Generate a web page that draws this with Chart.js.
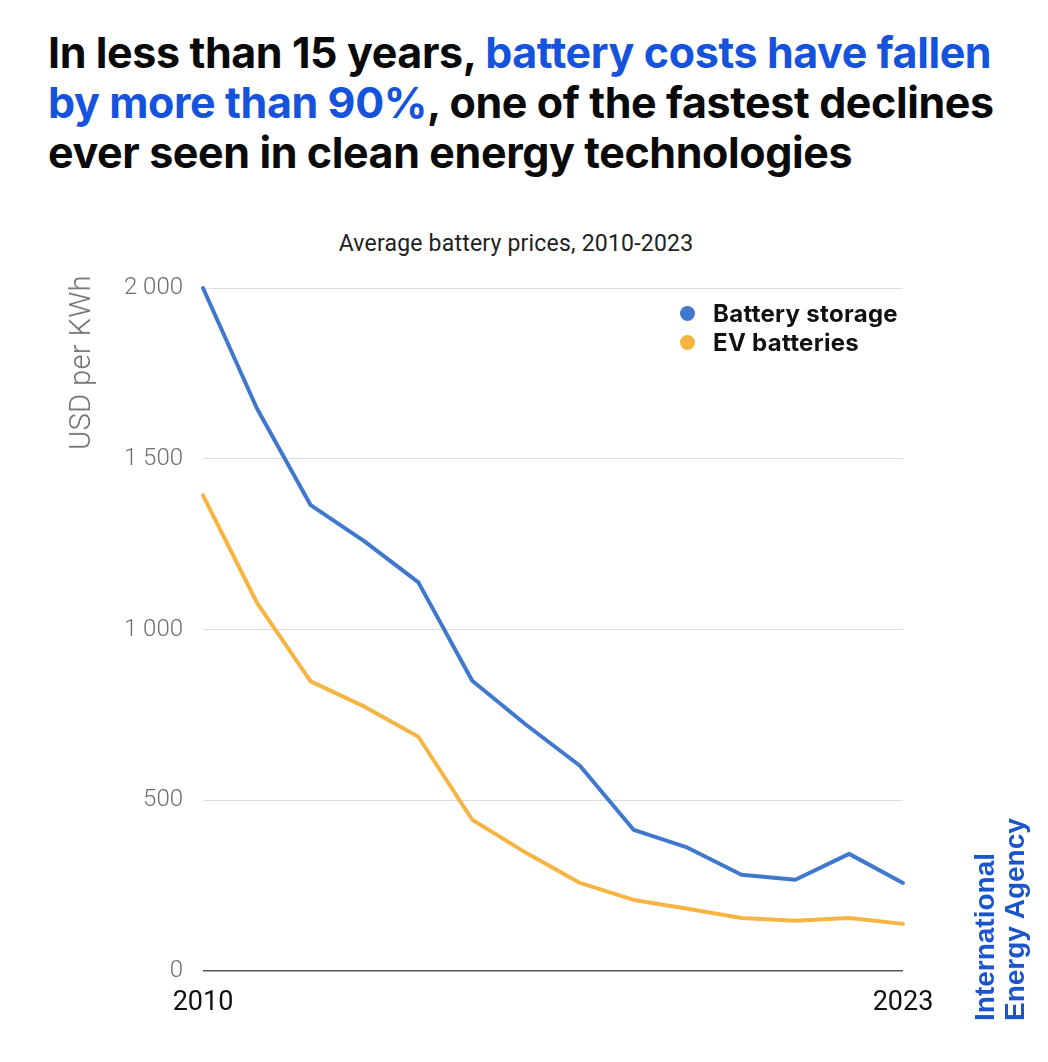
<!DOCTYPE html>
<html>
<head>
<meta charset="utf-8">
<script src="https://cdn.jsdelivr.net/npm/chart.js@4.4.1/dist/chart.umd.min.js"></script>
<style>
  html, body { margin: 0; padding: 0; background: #fff; }
  #page { position: relative; width: 1048px; height: 1062px; overflow: hidden; background: #fff; }
  #headline { position: absolute; left: 48px; top: 27px; font-family: Inter, "Open Sans", sans-serif; font-weight: 700; font-size: 43px; line-height: 50px; color: #0a0a0a; letter-spacing: -0.4px; white-space: nowrap; }
  #headline .hl { color: #1653dc; }
  #subtitle { position: absolute; left: 0; width: 1032px; top: 230px; text-align: center; font-family: Roboto, sans-serif; font-size: 23px; letter-spacing: 0.2px; color: #222; }
  #ytitle { position: absolute; left: 80px; top: 275px; transform-origin: 0 0; transform: translate(-17px, 0) rotate(-90deg) translate(-100%, 0); font-family: Roboto, sans-serif; font-weight: 300; font-size: 29px; line-height: 34px; letter-spacing: 0.4px; color: #6e6e6e; white-space: nowrap; }
  #legend { position: absolute; left: 680px; top: 299px; font-family: Inter, sans-serif; font-weight: 700; font-size: 24px; letter-spacing: 0.3px; color: #111; }
  #legend .item { height: 29px; line-height: 29px; display: flex; align-items: center; }
  #legend .dot { width: 15px; height: 15px; border-radius: 50%; margin-right: 18px; }
  #iea { position: absolute; left: 970px; top: 1021px; transform-origin: 0 0; transform: rotate(-90deg); font-family: "Liberation Sans", Arial, sans-serif; font-weight: 700; font-size: 28px; line-height: 30px; color: #1a55cc; white-space: nowrap; }
  canvas { position: absolute; left: 0; top: 0; }
</style>
</head>
<body>
<div id="page">
  <div id="headline">In less than 15 years, <span class="hl">battery costs have fallen</span><br><span class="hl">by more than 90%</span>, one of the fastest declines<br>ever seen in clean energy technologies</div>
  <div id="subtitle">Average battery prices, 2010-2023</div>
  <canvas id="chart" width="1048" height="1062"></canvas>
  <div id="ytitle">USD per KWh</div>
  <div id="legend">
    <div class="item"><span class="dot" style="background:#3f78cc"></span>Battery storage</div>
    <div class="item"><span class="dot" style="background:#f6b443"></span>EV batteries</div>
  </div>
  <div id="iea">International<br>Energy Agency</div>
</div>
<script>
const years = ["2010","2011","2012","2013","2014","2015","2016","2017","2018","2019","2020","2021","2022","2023"];
const batteryStorage = [2000, 1648, 1364, 1258, 1138, 850, 721, 601, 413, 361, 282, 267, 343, 258];
const evBatteries = [1393, 1079, 848, 774, 686, 443, 346, 258, 208, 182, 155, 147, 155, 138];
const yTicks = [0, 500, 1000, 1500, 2000];
const seriesNames = ["Battery storage", "EV batteries"];

function fmt(v) {
  return String(v).replace(/\B(?=(\d{3})+(?!\d))/g, " ");
}

new Chart(document.getElementById("chart"), {
  type: "line",
  data: {
    labels: years,
    datasets: [
      { label: seriesNames[0], data: batteryStorage, borderColor: "#3f78cc", backgroundColor: "#3f78cc", borderWidth: 4, pointRadius: 0, tension: 0, clip: false, borderJoinStyle: "round", borderCapStyle: "round" },
      { label: seriesNames[1], data: evBatteries, borderColor: "#f6b443", backgroundColor: "#f6b443", borderWidth: 4, pointRadius: 0, tension: 0, clip: false, borderJoinStyle: "round", borderCapStyle: "round" }
    ]
  },
  options: {
    responsive: false,
    animation: false,
    layout: { padding: { top: 288, right: 145, left: 0, bottom: 0 } },
    plugins: { legend: { display: false }, title: { display: false }, tooltip: { enabled: false } },
    scales: {
      x: {
        type: "category",
        offset: false,
        grid: { display: false, drawTicks: false },
        border: { display: false },
        ticks: {
          autoSkip: false, maxRotation: 0, padding: 16,
          color: "#111", font: { family: "Roboto", size: 27, weight: 400 },
          callback: function(v, i) { return (i === 0 || i === years.length - 1) ? years[i] : ""; }
        },
        afterFit: function(s) { s.height = 91; }
      },
      y: {
        min: 0, max: 2000,
        afterBuildTicks: function(s) { s.ticks = yTicks.map(v => ({ value: v })); },
        grid: {
          drawTicks: false,
          color: function(c) { return c.tick && c.tick.value === 0 ? "#555" : "#dcdcdc"; },
          lineWidth: function(c) { return c.tick && c.tick.value === 0 ? 1.5 : 1; }
        },
        border: { display: false },
        ticks: {
          padding: 20, color: "#6e6e6e", font: { family: "Roboto", size: 24, weight: 300 },
          callback: function(v) { return fmt(v); }
        },
        afterFit: function(s) { s.width = 203; }
      }
    }
  }
});
</script>
</body>
</html>
